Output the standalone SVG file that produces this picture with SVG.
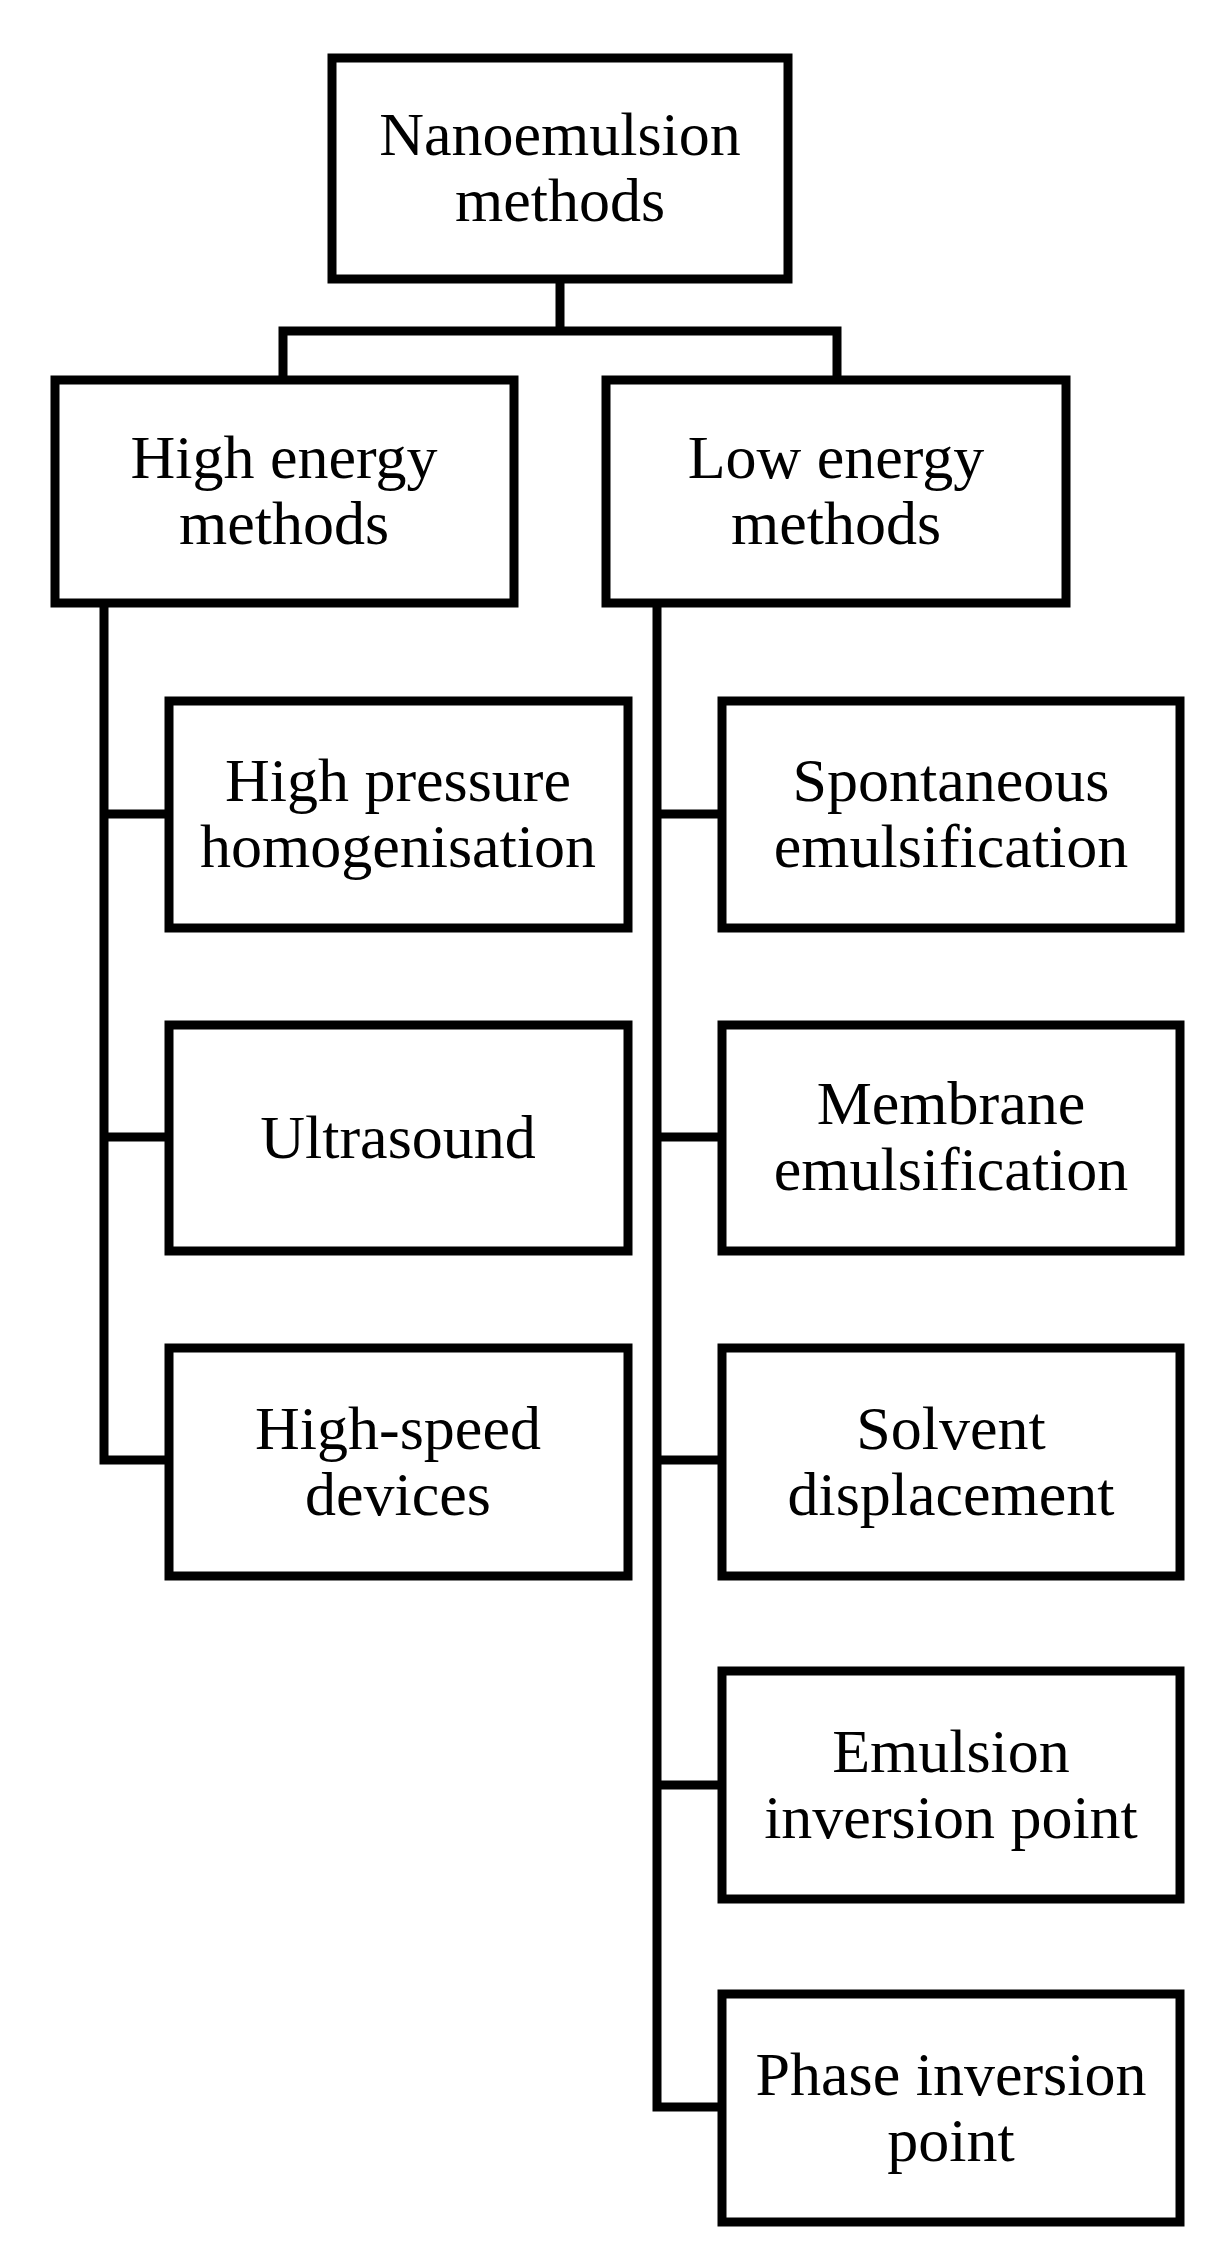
<svg xmlns="http://www.w3.org/2000/svg" width="1227" height="2256" viewBox="0 0 1227 2256">
<style>
.b{fill:#fff;stroke:#000;stroke-width:9}
.c{fill:none;stroke:#000;stroke-width:9;stroke-linecap:square}
text{font-family:'Liberation Serif','Times New Roman',Times,serif;font-size:62px;text-anchor:middle;fill:#000}
</style>
<rect width="1227" height="2256" fill="#fff"/>
<g id="connectors">
<path class="c" d="M560 279V331M283 380V331H837V380"/>
<path class="c" d="M104 603V1460M104 814H169M104 1137H169M104 1460H169"/>
<path class="c" d="M657 603V2107M657 814H722M657 1137H722M657 1460H722M657 1785H722M657 2107H722"/>
</g>
<g id="root"><rect class="b" x="332" y="58" width="456" height="221"/><text x="560" y="155">Nanoemulsion</text><text x="560" y="221">methods</text></g>
<g id="high"><rect class="b" x="55" y="380" width="459" height="223"/><text x="284" y="478">High energy</text><text x="284" y="544">methods</text></g>
<g id="low"><rect class="b" x="606" y="380" width="460" height="223"/><text x="836" y="478">Low energy</text><text x="836" y="544">methods</text></g>
<g id="hph"><rect class="b" x="169" y="701" width="459" height="227"/><text x="398" y="801">High pressure</text><text x="398" y="867">homogenisation</text></g>
<g id="us"><rect class="b" x="169" y="1025" width="459" height="226"/><text x="398" y="1158">Ultrasound</text></g>
<g id="hs"><rect class="b" x="169" y="1348" width="459" height="228"/><text x="398" y="1449">High-speed</text><text x="398" y="1515">devices</text></g>
<g id="se"><rect class="b" x="722" y="701" width="458" height="227"/><text x="951" y="801">Spontaneous</text><text x="951" y="867">emulsification</text></g>
<g id="me"><rect class="b" x="722" y="1025" width="458" height="226"/><text x="951" y="1124">Membrane</text><text x="951" y="1190">emulsification</text></g>
<g id="sd"><rect class="b" x="722" y="1348" width="458" height="228"/><text x="951" y="1449">Solvent</text><text x="951" y="1515">displacement</text></g>
<g id="eip"><rect class="b" x="722" y="1671" width="458" height="228"/><text x="951" y="1772">Emulsion</text><text x="951" y="1838">inversion point</text></g>
<g id="pip"><rect class="b" x="722" y="1994" width="458" height="228"/><text x="951" y="2095">Phase inversion</text><text x="951" y="2161">point</text></g>
</svg>
